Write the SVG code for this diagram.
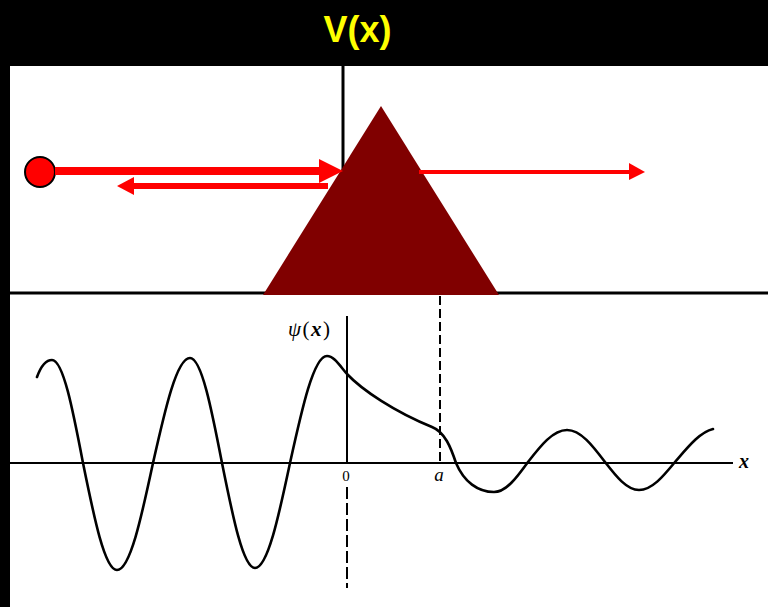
<svg xmlns="http://www.w3.org/2000/svg" width="768" height="607" viewBox="0 0 768 607">
<defs>
<style>
.ax{stroke:#000;stroke-width:2;fill:none}
.ax3{stroke:#000;stroke-width:3;fill:none}
.dash{stroke:#000;stroke-width:2;fill:none;stroke-dasharray:9 4}
.wave{stroke:#000;stroke-width:2.6;fill:none;stroke-linejoin:round;stroke-linecap:round}
.red{stroke:#ff0000;fill:none}
.lbl{font-family:"Liberation Serif","DejaVu Serif",serif;fill:#000}
</style>
</defs>
<rect x="0" y="0" width="768" height="607" fill="#000"/>
<rect x="10" y="66" width="758" height="541" fill="#fff"/>
<text x="357.5" y="42" text-anchor="middle" font-family="'Liberation Sans',Arial,sans-serif" font-weight="bold" font-size="36" fill="#ffff00">V(x)</text>

<g id="potential-axes">
<line class="ax3" x1="343" y1="66" x2="343" y2="180"/>
<line class="ax3" x1="10" y1="293" x2="768" y2="293"/>
</g>
<g id="barrier">
<polygon points="381,106 263,295 499,295" fill="#800000"/>
</g>
<g id="particle">
<circle cx="40" cy="172" r="15" fill="#ff0000" stroke="#000" stroke-width="2"/>
</g>
<g id="connectors">
<line class="red" x1="55" y1="171" x2="321" y2="171" stroke-width="8"/>
<polygon points="319,159 343,171 319,183" fill="#ff0000"/>
<line class="red" x1="132" y1="186" x2="328" y2="186" stroke-width="6"/>
<polygon points="134,177 117,186 134,195" fill="#ff0000"/>
<line class="red" x1="419" y1="172" x2="631" y2="172" stroke-width="4"/>
<polygon points="629,163 645,172 629,180" fill="#ff0000"/>
</g>

<g id="wavefunction-axes">
<line class="ax" x1="10" y1="463" x2="733" y2="463"/>
<line class="ax" x1="347" y1="316" x2="347" y2="463"/>
<line class="dash" x1="440" y1="296" x2="440" y2="463"/>
<line class="dash" x1="347" y1="487" x2="347" y2="588" style="stroke-dasharray:12 4"/>
</g>
<g id="wavefunction">
<path class="wave" d="M37,377 C41,366 46,360 52,360
C63.2,360 72.9,410.2 83,463
C94.1,517.8 104.8,570 117,570
C130,570 141.3,517.8 153,463
C165.1,409.2 176.7,358 190,358
C201.5,358 211.6,409.2 222,463
C232.8,516.8 243.1,568 255,568
C267.6,568 278.6,516.8 290,463
C302.1,408.2 313.7,356 327,356
C334,356 340,366 347,374
C362,390 395,412 432,427
C445,432 451,448 456,463
C464,482 478,492 494,492
C506.2,492 516.9,477.4 528,462
C540.7,445.6 553,430 567,430
C580.7,430 592.6,445.6 605,462
C616.1,476.3 626.8,490 639,490
C652,490 663.3,476.3 675,462
C688,447 700,432 713,429"/>
</g>
<g id="labels">
<text class="lbl" x="288" y="336" font-size="21" letter-spacing="1.5"><tspan font-style="italic">ψ</tspan>(<tspan font-style="italic" font-weight="bold">x</tspan>)</text>
<text class="lbl" x="346" y="481" text-anchor="middle" font-size="15">0</text>
<text class="lbl" x="439" y="481" text-anchor="middle" font-style="italic" font-size="19">a</text>
<text class="lbl" x="739" y="468" font-style="italic" font-weight="bold" font-size="20">x</text>
</g>
</svg>
